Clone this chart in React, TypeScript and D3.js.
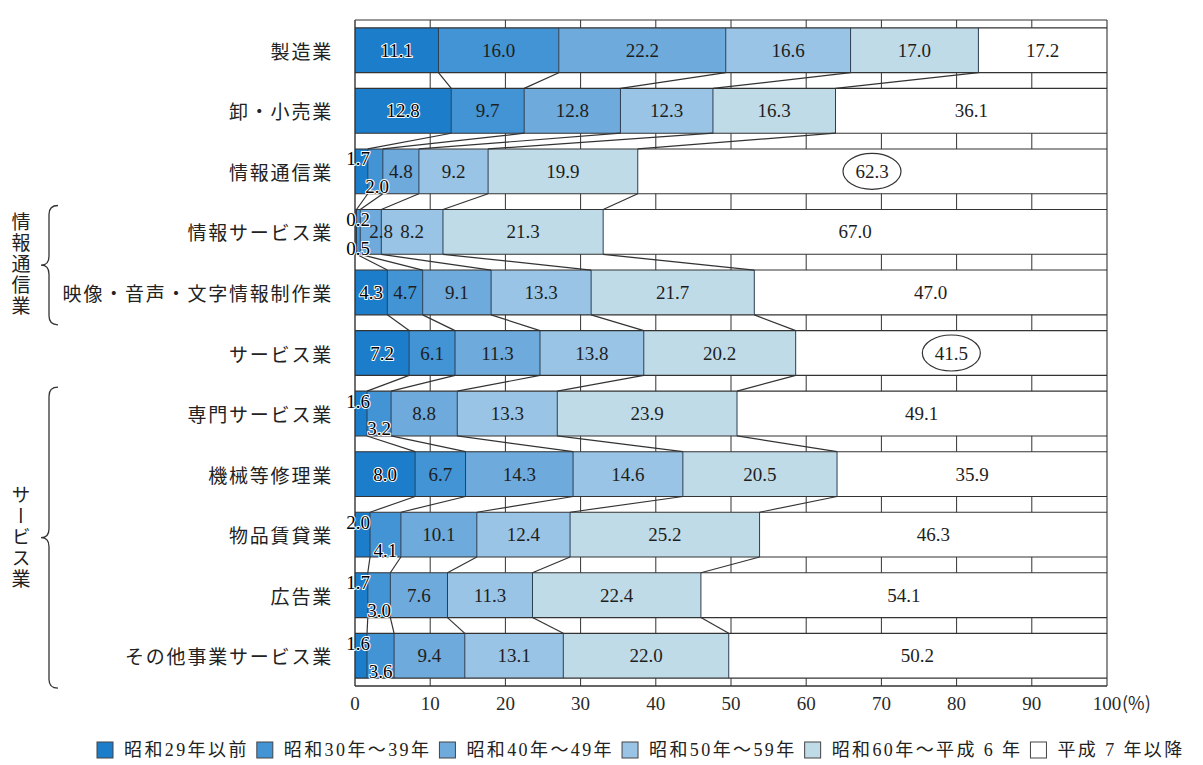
import * as d3 from 'd3'
import { useEffect, useRef } from 'react'

// industries, top to bottom
const categories = [
  '製造業',
  '卸・小売業',
  '情報通信業',
  '情報サービス業',
  '映像・音声・文字情報制作業',
  'サービス業',
  '専門サービス業',
  '機械等修理業',
  '物品賃貸業',
  '広告業',
  'その他事業サービス業',
]

const seriesNames = [
  '昭和29年以前',
  '昭和30年～39年',
  '昭和40年～49年',
  '昭和50年～59年',
  '昭和60年～平成 6 年',
  '平成 7 年以降',
]

// shares (%) by founding period
const before1955 = [11.1, 12.8, 1.7, 0.2, 4.3, 7.2, 1.6, 8.0, 2.0, 1.7, 1.6]
const s1955to64 = [16.0, 9.7, 2.0, 0.5, 4.7, 6.1, 3.2, 6.7, 4.1, 3.0, 3.6]
const s1965to74 = [22.2, 12.8, 4.8, 2.8, 9.1, 11.3, 8.8, 14.3, 10.1, 7.6, 9.4]
const s1975to84 = [16.6, 12.3, 9.2, 8.2, 13.3, 13.8, 13.3, 14.6, 12.4, 11.3, 13.1]
const s1985to94 = [17.0, 16.3, 19.9, 21.3, 21.7, 20.2, 23.9, 20.5, 25.2, 22.4, 22.0]
const since1995 = [17.2, 36.1, 62.3, 67.0, 47.0, 41.5, 49.1, 35.9, 46.3, 54.1, 50.2]

const seriesValues = [before1955, s1955to64, s1965to74, s1975to84, s1985to94, since1995]
const colors = ['#1c7dcb', '#4394d4', '#6eaadb', '#9ac4e5', '#c0dbe8', '#ffffff']

const xTicks = [0, 10, 20, 30, 40, 50, 60, 70, 80, 90, 100]
const circled = ['情報通信業', 'サービス業']

const groups = [
  { label: '情報通信業', from: '情報サービス業', to: '映像・音声・文字情報制作業' },
  { label: 'サービス業', from: '専門サービス業', to: 'その他事業サービス業' },
]

const SERIF = '"Liberation Serif", "Noto Sans CJK JP", serif'
const JP = '"Noto Sans CJK JP", sans-serif'

export default function App() {
  const svgRef = useRef<SVGSVGElement>(null)

  useEffect(() => {
    document.body.style.margin = '0'
    const svg = d3.select(svgRef.current)
    svg.selectAll('*').remove()

    const top = 20
    const bottom = 686
    const x = d3.scaleLinear().domain([0, 100]).range([355, 1107])
    const y = d3
      .scaleBand<string>()
      .domain(categories)
      .range([top, bottom])
      .paddingInner(0.26)
      .paddingOuter(0.13)
    const bw = y.bandwidth()

    const rows = categories.map((c, i) => {
      const r: any = { category: c }
      seriesNames.forEach((s, k) => (r[s] = seriesValues[k][i]))
      return r
    })
    const layers = d3.stack<any>().keys(seriesNames)(rows)

    // bar segments
    layers.forEach((layer, k) => {
      svg
        .append('g')
        .selectAll('rect')
        .data(layer)
        .enter()
        .append('rect')
        .attr('x', (d) => x(d[0]))
        .attr('y', (d) => y(d.data.category) as number)
        .attr('width', (d) => x(Math.min(d[1], 100)) - x(d[0]))
        .attr('height', bw)
        .attr('fill', colors[k])
    })

    const lines = svg.append('g').attr('stroke', '#333').attr('fill', 'none')

    // strips between bars with 10% ticks
    const strips: [number, number][] = []
    strips.push([top, y(categories[0]) as number])
    categories.forEach((c, i) => {
      const b = (y(c) as number) + bw
      const next = i < categories.length - 1 ? (y(categories[i + 1]) as number) : bottom
      strips.push([b, next])
    })
    strips.forEach(([a, b]) => {
      xTicks.slice(1, -1).forEach((t) => {
        lines.append('line').attr('x1', x(t)).attr('x2', x(t)).attr('y1', a).attr('y2', b).attr('stroke-width', 1)
      })
    })

    // bar edges
    categories.forEach((c) => {
      const t = y(c) as number
      ;[t, t + bw].forEach((yy) => {
        lines.append('line').attr('x1', x(0)).attr('x2', x(100)).attr('y1', yy).attr('y2', yy).attr('stroke-width', 1.1)
      })
    })
    // frame
    lines.append('line').attr('x1', x(0)).attr('x2', x(100)).attr('y1', top).attr('y2', top).attr('stroke-width', 1.1)
    lines.append('line').attr('x1', x(0)).attr('x2', x(100)).attr('y1', bottom).attr('y2', bottom).attr('stroke-width', 1.4)
    lines.append('line').attr('x1', x(0)).attr('x2', x(0)).attr('y1', top).attr('y2', bottom).attr('stroke-width', 1.4)
    lines.append('line').attr('x1', x(100)).attr('x2', x(100)).attr('y1', top).attr('y2', bottom).attr('stroke-width', 1.1)

    // segment boundaries
    layers.slice(0, -1).forEach((layer) => {
      layer.forEach((d) => {
        const t = y(d.data.category) as number
        lines
          .append('line')
          .attr('x1', x(d[1]))
          .attr('x2', x(d[1]))
          .attr('y1', t)
          .attr('y2', t + bw)
          .attr('stroke', '#2a3c52')
          .attr('stroke-width', 1)
      })
    })

    // connectors between neighbouring bars
    layers.slice(0, -1).forEach((layer) => {
      for (let i = 0; i < categories.length - 1; i++) {
        const a = layer[i]
        const b = layer[i + 1]
        lines
          .append('line')
          .attr('x1', x(a[1]))
          .attr('y1', (y(categories[i]) as number) + bw)
          .attr('x2', x(b[1]))
          .attr('y2', y(categories[i + 1]) as number)
          .attr('stroke-width', 1.2)
      }
    })

    // value labels
    const labels = svg
      .append('g')
      .attr('font-family', SERIF)
      .attr('font-size', 19)
      .attr('fill', '#1e1e1e')
      .attr('text-anchor', 'middle')
      .attr('dominant-baseline', 'central')

    const put = (tx: number, ty: number, txt: string, halo: boolean) => {
      const el = labels.append('text').attr('x', tx).attr('y', ty).text(txt)
      if (halo) {
        el.attr('fill', '#000')
          .attr('stroke', '#fff')
          .attr('stroke-width', 2)
          .attr('paint-order', 'stroke')
          .attr('stroke-linejoin', 'round')
      }
      return el
    }

    layers.forEach((layer, k) => {
      layer.forEach((d, i) => {
        const t = y(d.data.category) as number
        const v = seriesValues[k][i]
        const txt = v.toFixed(1)
        const cx = x((d[0] + Math.min(d[1], 100)) / 2)
        const small = seriesValues[0][i] < 2.5
        if (small && k === 0) {
          put(x(0) + 3, t + 10, txt, true)
        } else if (small && k === 1) {
          if (v < 1) put(x(0) + 3, t + bw - 6, txt, true)
          else put(Math.max(cx, x(0) + 22), t + bw - 7, txt, true)
        } else if (small && k === 2) {
          put(Math.max(cx, x(0) + 26), t + bw / 2, txt, false)
        } else {
          put(cx, t + bw / 2, txt, k === 0)
        }
        if (k === seriesNames.length - 1 && circled.includes(d.data.category)) {
          svg
            .append('ellipse')
            .attr('cx', cx)
            .attr('cy', t + bw / 2)
            .attr('rx', 29)
            .attr('ry', 18)
            .attr('fill', 'none')
            .attr('stroke', '#333')
            .attr('stroke-width', 1.2)
        }
      })
    })

    // x axis tick labels
    const axis = svg
      .append('g')
      .attr('font-family', SERIF)
      .attr('font-size', 19)
      .attr('fill', '#2a2a2a')
      .attr('text-anchor', 'middle')
    xTicks.forEach((t) => {
      axis.append('text').attr('x', x(t)).attr('y', 710).text(String(t))
    })
    axis
      .append('text')
      .attr('x', x(100) + 15)
      .attr('y', 710)
      .attr('text-anchor', 'start')
      .attr('font-family', JP)
      .attr('font-size', 18)
      .text('(%)')

    // category labels
    svg
      .append('g')
      .attr('font-family', JP)
      .attr('font-size', 19)
      .attr('fill', '#222')
      .attr('text-anchor', 'end')
      .attr('dominant-baseline', 'central')
      .selectAll('text')
      .data(categories)
      .enter()
      .append('text')
      .attr('x', 333)
      .attr('y', (c) => (y(c) as number) + bw / 2)
      .attr('letter-spacing', 1.8)
      .text((c) => c)

    // group braces
    groups.forEach((g) => {
      const y0 = (y(g.from) as number) - 4
      const y1 = (y(g.to) as number) + bw + 10
      const ym = (y0 + y1) / 2
      const xr = 58
      const xm = 49
      const xl = 41
      const r = 9
      const p = `M${xr},${y0} Q${xm},${y0} ${xm},${y0 + r} L${xm},${ym - r} Q${xm},${ym} ${xl},${ym} Q${xm},${ym} ${xm},${ym + r} L${xm},${y1 - r} Q${xm},${y1} ${xr},${y1}`
      svg.append('path').attr('d', p).attr('fill', 'none').attr('stroke', '#333').attr('stroke-width', 1.3)
      svg
        .append('text')
        .attr('x', 21)
        .attr('y', ym)
        .attr('font-family', JP)
        .attr('font-size', 19)
        .attr('fill', '#222')
        .attr('text-anchor', 'middle')
        .attr('letter-spacing', 2)
        .style('writing-mode', 'vertical-rl')
        .text(g.label)
    })

    // legend
    const legend = svg.append('g').attr('font-family', SERIF).attr('font-size', 18).attr('fill', '#222')
    let lx = 97
    const ly = 750
    seriesNames.forEach((s, k) => {
      legend
        .append('rect')
        .attr('x', lx)
        .attr('y', ly - 8)
        .attr('width', 16)
        .attr('height', 16)
        .attr('fill', colors[k])
        .attr('stroke', '#444')
        .attr('stroke-width', 1)
      const txt = legend
        .append('text')
        .attr('x', lx + 27)
        .attr('y', ly)
        .attr('dominant-baseline', 'central')
        .attr('letter-spacing', 2.4)
        .text(s)
      const w = (txt.node() as SVGTextElement).getComputedTextLength()
      lx += 27 + w + 8
    })
  }, [])

  return <svg ref={svgRef} width={1203} height={765} style={{ display: 'block', background: '#fff' }} />
}
